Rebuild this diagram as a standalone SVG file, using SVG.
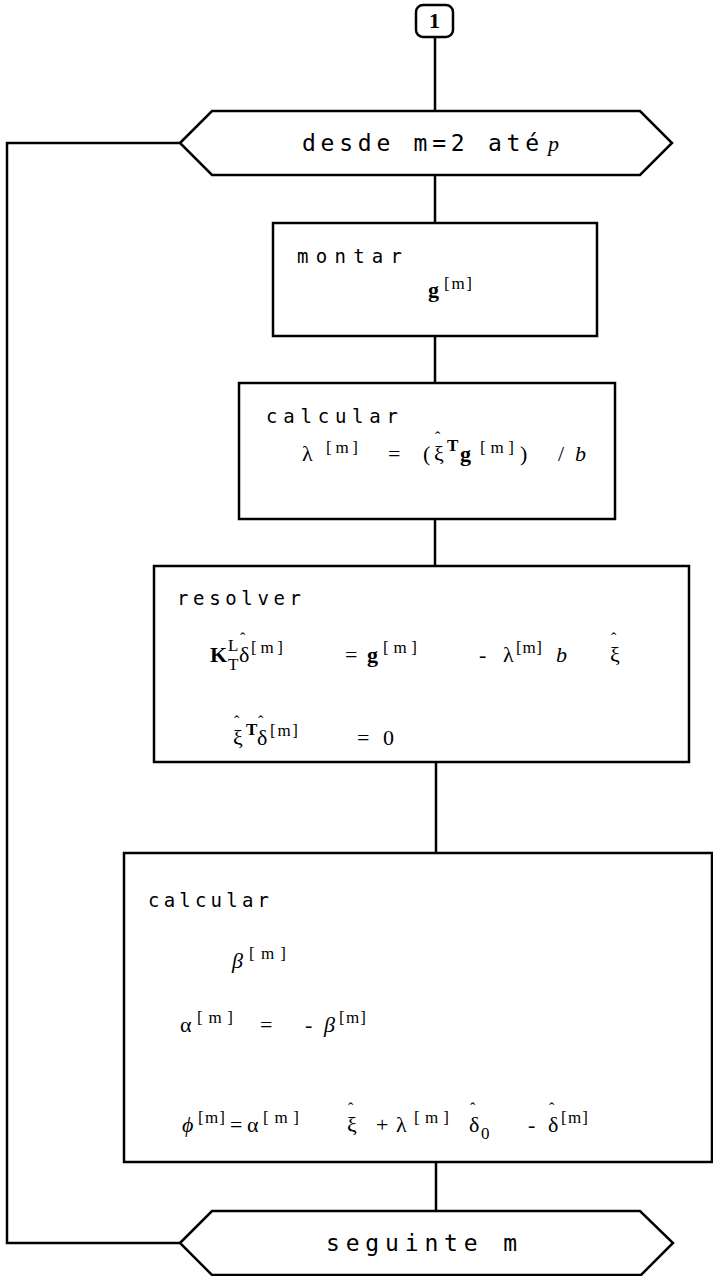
<svg xmlns="http://www.w3.org/2000/svg" width="713" height="1276" viewBox="0 0 713 1276">
<style>
.box{fill:#fff;stroke:#000;stroke-width:2.5}
.ln{fill:none;stroke:#000;stroke-width:2.5}
.lbl{font-family:"DejaVu Sans Mono","Liberation Mono",monospace;font-size:19px;fill:#000}
.hx{font-family:"DejaVu Sans Mono","Liberation Mono",monospace;font-size:23px;fill:#000}
.m{font-family:"Liberation Serif","DejaVu Serif",serif;font-size:22px;fill:#000}
.b{font-weight:bold}
.i{font-style:italic}
.s{font-family:"Liberation Serif","DejaVu Serif",serif;font-size:17px;fill:#000}
.h{font-family:"Liberation Serif","DejaVu Serif",serif;font-size:16px;fill:#000}
</style>
<rect width="713" height="1276" fill="#fff"/>
<g id="connectors">
<line class="ln" x1="435" y1="37" x2="435" y2="111"/>
<line class="ln" x1="435" y1="175" x2="435" y2="223"/>
<line class="ln" x1="435" y1="336" x2="435" y2="383"/>
<line class="ln" x1="435" y1="519" x2="435" y2="566"/>
<line class="ln" x1="436" y1="762" x2="436" y2="853"/>
<line class="ln" x1="436" y1="1162" x2="436" y2="1211"/>
<polyline class="ln" points="180,143 7,143 7,1243 180,1243"/>
</g>
<g id="start">
<rect class="box" x="416" y="5" width="37" height="32" rx="7"/>
<text class="m b" x="434.5" y="28" font-size="17" text-anchor="middle">1</text>
</g>
<g id="loop-start">
<polygon class="box" points="180,143 212,111 640,111 672,143 640,175 212,175"/>
<text class="hx" x="302" y="151" textLength="237" lengthAdjust="spacing">desde m=2 até</text>
<text class="m i" x="548" y="151" font-size="23">p</text>
</g>
<g id="montar">
<rect class="box" x="273" y="223" width="324" height="113"/>
<text class="lbl" x="297" y="263" textLength="105" lengthAdjust="spacing">montar</text>
<text class="m b" x="428" y="297">g</text>
<text class="s" x="444" y="289" textLength="28" lengthAdjust="spacing">[m]</text>
</g>
<g id="calc-lambda">
<rect class="box" x="239" y="383" width="376" height="136"/>
<text class="lbl" x="266" y="423" textLength="132" lengthAdjust="spacing">calcular</text>
<text class="m" x="302" y="461">λ</text>
<text class="s" x="326" y="453" textLength="32" lengthAdjust="spacing">[m]</text>
<text class="m" x="388" y="461">=</text>
<text class="m" x="423" y="461">(</text>
<text class="m" x="434" y="461">ξ</text>
<text class="h" x="435" y="443">ˆ</text>
<text class="s b" x="447" y="451">T</text>
<text class="m b" x="460" y="461">g</text>
<text class="s" x="480" y="453" textLength="34" lengthAdjust="spacing">[m]</text>
<text class="m" x="520" y="461">)</text>
<text class="m" x="558" y="461">/</text>
<text class="m i" x="575" y="461">b</text>
</g>
<g id="resolver">
<rect class="box" x="154" y="566" width="535" height="196"/>
<text class="lbl" x="177" y="605" textLength="124" lengthAdjust="spacing">resolver</text>
<text class="m b" x="210" y="662">K</text>
<text class="s" x="228" y="651" font-size="14">L</text>
<text class="s" x="228" y="670" font-size="14">T</text>
<text class="m" x="239" y="662">δ</text>
<text class="h" x="240" y="644">ˆ</text>
<text class="s" x="251" y="653" textLength="32" lengthAdjust="spacing">[m]</text>
<text class="m" x="345" y="662">=</text>
<text class="m b" x="367" y="662">g</text>
<text class="s" x="383" y="653" textLength="34" lengthAdjust="spacing">[m]</text>
<text class="m" x="479" y="662">-</text>
<text class="m" x="503" y="662">λ</text>
<text class="s" x="516" y="653" textLength="26" lengthAdjust="spacing">[m]</text>
<text class="m i" x="556" y="662">b</text>
<text class="m" x="610" y="662">ξ</text>
<text class="h" x="611" y="644">ˆ</text>
<text class="m" x="233" y="745">ξ</text>
<text class="h" x="234" y="727">ˆ</text>
<text class="s b" x="246" y="735">T</text>
<text class="m" x="257" y="745">δ</text>
<text class="h" x="258" y="727">ˆ</text>
<text class="s" x="270" y="736" textLength="28" lengthAdjust="spacing">[m]</text>
<text class="m" x="357" y="745">=</text>
<text class="m" x="383" y="745">0</text>
</g>
<g id="calc-phi">
<rect class="box" x="124" y="853" width="588" height="309"/>
<text class="lbl" x="148" y="907" textLength="121" lengthAdjust="spacing">calcular</text>
<text class="m i" x="232" y="968">β</text>
<text class="s" x="249" y="959" textLength="37" lengthAdjust="spacing">[m]</text>
<text class="m" x="180" y="1032">α</text>
<text class="s" x="197" y="1023" textLength="36" lengthAdjust="spacing">[m]</text>
<text class="m" x="260" y="1032">=</text>
<text class="m" x="305" y="1032">-</text>
<text class="m i" x="324" y="1032">β</text>
<text class="s" x="339" y="1023" textLength="27" lengthAdjust="spacing">[m]</text>
<text class="m i" x="182" y="1132">ϕ</text>
<text class="s" x="198" y="1123" textLength="27" lengthAdjust="spacing">[m]</text>
<text class="m" x="230" y="1132">=</text>
<text class="m" x="247" y="1132">α</text>
<text class="s" x="263" y="1123" textLength="36" lengthAdjust="spacing">[m]</text>
<text class="m" x="347" y="1132">ξ</text>
<text class="h" x="348" y="1114">ˆ</text>
<text class="m" x="376" y="1132">+</text>
<text class="m" x="396" y="1132">λ</text>
<text class="s" x="414" y="1123" textLength="35" lengthAdjust="spacing">[m]</text>
<text class="m" x="469" y="1132">δ</text>
<text class="h" x="470" y="1114">ˆ</text>
<text class="s" x="481" y="1139">0</text>
<text class="m" x="528" y="1132">-</text>
<text class="m" x="548" y="1132">δ</text>
<text class="h" x="549" y="1114">ˆ</text>
<text class="s" x="561" y="1123" textLength="27" lengthAdjust="spacing">[m]</text>
</g>
<g id="loop-end">
<polygon class="box" points="180,1243 212,1211 640,1211 673,1243 641,1275 212,1275"/>
<text class="hx" x="326" y="1251" textLength="191" lengthAdjust="spacing">seguinte m</text>
</g>
</svg>
